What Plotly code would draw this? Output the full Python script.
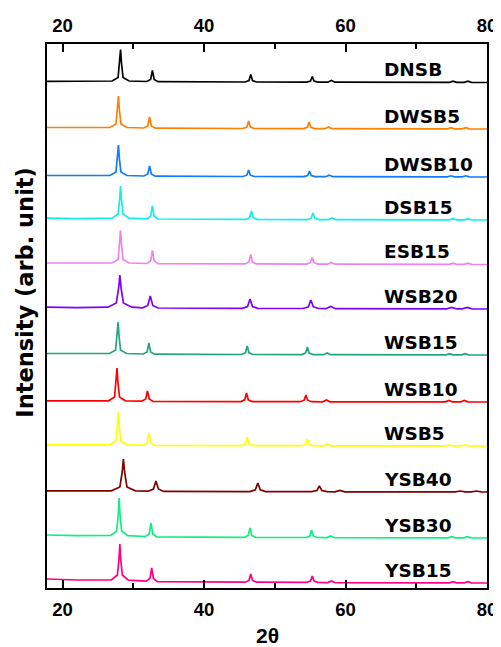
import plotly.graph_objects as go

# ---- data ----
names = ["DNSB", "DWSB5", "DWSB10", "DSB15", "ESB15", "WSB20",
         "WSB15", "WSB10", "WSB5", "YSB40", "YSB30", "YSB15"]
colors = ["#000000", "#FF8000", "#0F7BFF", "#11EEEE", "#EE82EE", "#8000FF",
          "#20A878", "#FF0000", "#FFFF00", "#800000", "#10F080", "#FF0080"]
offsets = [505.5, 459, 411, 368, 323.5, 279, 233, 186, 142, 96, 50, 5]

x_DNSB = [17.8, 22, 27.0, 27.85, 28.08, 28.2, 28.32, 28.55, 29.4, 31.9, 32.45, 32.7, 32.95, 33.5, 45.8, 46.35, 46.6, 46.85, 47.4, 54.5, 55.05, 55.3, 55.55, 56.1, 57.5, 58.0, 58.5, 74.7, 75.2, 75.7, 76.8, 77.3, 77.8, 80]
y_DNSB = [1.2, 1.0, 1.5, 5, 20, 33, 20, 5, 1.5, 1.0, 3, 12, 3, 0.8, 0.5, 2, 8, 2, 0.5, 0.4, 1.5, 6, 1.5, 0.4, 0.3, 2, 0.3, 0.1, 1.3, 0.1, 0.1, 1.3, 0.1, 0]

x_DWSB5 = [17.8, 22, 26.7, 27.55, 27.78, 27.9, 28.02, 28.25, 29.1, 31.5, 32.05, 32.3, 32.55, 33.1, 45.5, 46.05, 46.3, 46.55, 47.1, 54.05, 54.6, 54.85, 55.1, 55.65, 57.1, 57.6, 58.1, 74.4, 74.9, 75.4, 76.5, 77.0, 77.5, 80]
y_DWSB5 = [1.5, 1.2, 1.5, 5, 20, 33, 20, 5, 1.5, 1.0, 3, 12, 3, 0.8, 0.5, 2, 8, 2, 0.5, 0.4, 1.7, 7, 1.7, 0.4, 0.3, 2, 0.3, 0.1, 1.3, 0.1, 0.1, 1.3, 0.1, 0]

x_DWSB10 = [17.8, 22, 26.7, 27.55, 27.78, 27.9, 28.02, 28.25, 29.1, 31.5, 32.05, 32.3, 32.55, 33.1, 45.5, 46.05, 46.3, 46.55, 47.1, 54.1, 54.65, 54.9, 55.15, 55.7, 57.2, 57.7, 58.2, 74.4, 74.9, 75.4, 76.5, 77.0, 77.5, 80]
y_DWSB10 = [1.5, 1.2, 1.5, 5, 19, 32, 19, 5, 1.5, 1.0, 3, 11, 3, 0.8, 0.5, 1.8, 7, 1.8, 0.5, 0.4, 1.5, 6, 1.5, 0.4, 0.3, 1.8, 0.3, 0.1, 1.2, 0.1, 0.1, 1.2, 0.1, 0]

x_DSB15 = [17.8, 22, 27.0, 27.85, 28.08, 28.2, 28.32, 28.55, 29.4, 31.9, 32.45, 32.7, 32.95, 33.5, 45.9, 46.45, 46.7, 46.95, 47.5, 54.6, 55.15, 55.4, 55.65, 56.2, 57.6, 58.1, 58.6, 74.7, 75.2, 75.7, 76.8, 77.3, 77.8, 80]
y_DSB15 = [1.8, 1.4, 1.8, 6, 21, 34, 21, 6, 1.8, 1.2, 3.5, 14, 3.5, 1.0, 0.6, 2.3, 9, 2.3, 0.6, 0.4, 1.8, 7, 1.8, 0.4, 0.3, 2, 0.3, 0.1, 1.3, 0.1, 0.1, 1.3, 0.1, 0]

x_ESB15 = [17.8, 22, 27.0, 27.85, 28.08, 28.2, 28.32, 28.55, 29.4, 31.9, 32.45, 32.7, 32.95, 33.5, 45.8, 46.35, 46.6, 46.85, 47.4, 54.5, 55.05, 55.3, 55.55, 56.1, 57.5, 58.0, 58.5, 74.7, 75.2, 75.7, 76.8, 77.3, 77.8, 80]
y_ESB15 = [1.5, 1.2, 1.5, 5, 21, 34, 21, 5, 1.5, 1.0, 3.5, 14, 3.5, 0.8, 0.6, 2.5, 10, 2.5, 0.6, 0.4, 1.8, 7, 1.8, 0.4, 0.3, 2, 0.3, 0.1, 1.3, 0.1, 0.1, 1.3, 0.1, 0]

x_WSB20 = [17.8, 22, 26.4, 27.6, 27.93, 28.1, 28.27, 28.6, 29.8, 31.3, 32.05, 32.4, 32.75, 33.5, 45.4, 46.15, 46.5, 46.85, 47.6, 54.0, 54.75, 55.1, 55.45, 56.2, 57.2, 57.9, 58.6, 74.3, 75.0, 75.7, 76.5, 77.2, 77.9, 80]
y_WSB20 = [1.8, 1.4, 1.8, 6, 21, 34, 21, 6, 1.8, 1.2, 3.5, 13, 3.5, 1.0, 0.6, 2.5, 10, 2.5, 0.6, 0.5, 2.2, 9, 2.2, 0.5, 0.3, 2.5, 0.3, 0.1, 1.5, 0.1, 0.1, 1.5, 0.1, 0]

x_WSB15 = [17.8, 22, 26.65, 27.5, 27.73, 27.85, 27.97, 28.2, 29.05, 31.4, 31.95, 32.2, 32.45, 33.0, 45.3, 45.85, 46.1, 46.35, 46.9, 53.8, 54.35, 54.6, 54.85, 55.4, 56.9, 57.4, 57.9, 74.2, 74.7, 75.2, 76.4, 76.9, 77.4, 80]
y_WSB15 = [1.5, 1.2, 1.5, 5, 20, 33, 20, 5, 1.5, 1.0, 3, 12, 3, 0.8, 0.5, 2.2, 9, 2.2, 0.5, 0.4, 2, 8, 2, 0.4, 0.3, 2, 0.3, 0.1, 1.3, 0.1, 0.1, 1.3, 0.1, 0]

x_WSB10 = [17.8, 22, 26.5, 27.35, 27.58, 27.7, 27.82, 28.05, 28.9, 31.2, 31.75, 32.0, 32.25, 32.8, 45.2, 45.75, 46.0, 46.25, 46.8, 53.6, 54.15, 54.4, 54.65, 55.2, 56.8, 57.3, 57.8, 74.1, 74.6, 75.1, 76.3, 76.8, 77.3, 80]
y_WSB10 = [1.2, 1.0, 1.2, 5, 20, 34, 20, 5, 1.2, 0.8, 3, 11, 3, 0.6, 0.4, 2.2, 9, 2.2, 0.4, 0.3, 1.8, 7, 1.8, 0.3, 0.2, 2, 0.2, 0.1, 1.5, 0.1, 0.1, 1.5, 0.1, 0]

x_WSB5 = [17.8, 22, 26.7, 27.55, 27.78, 27.9, 28.02, 28.25, 29.1, 31.4, 31.95, 32.2, 32.45, 33.0, 45.3, 45.85, 46.1, 46.35, 46.9, 53.8, 54.35, 54.6, 54.85, 55.4, 56.9, 57.4, 57.9, 74.2, 74.7, 75.2, 76.4, 76.9, 77.4, 80]
y_WSB5 = [1.2, 1.0, 1.2, 5, 20, 34, 20, 5, 1.2, 0.8, 3.2, 13, 3.2, 0.6, 0.4, 2.2, 9, 2.2, 0.4, 0.3, 1.8, 7, 1.8, 0.3, 0.2, 2, 0.2, 0.1, 1.2, 0.1, 0.1, 1.2, 0.1, 0]

x_YSB40 = [17.8, 22, 26.9, 28.1, 28.43, 28.6, 28.77, 29.1, 30.3, 32.1, 32.85, 33.2, 33.55, 34.3, 46.5, 47.25, 47.6, 47.95, 48.7, 55.2, 55.95, 56.3, 56.65, 57.4, 58.5, 59.2, 59.9, 75.5, 76.2, 76.9, 77.8, 78.5, 79.2, 80]
y_YSB40 = [1.2, 1.0, 1.2, 5, 20, 33, 20, 5, 1.2, 0.8, 3, 11, 3, 0.6, 0.4, 2.2, 9, 2.2, 0.4, 0.3, 1.5, 6, 1.5, 0.3, 0.2, 1.5, 0.2, 0.1, 1.0, 0.1, 0.1, 1.0, 0.1, 0]

x_YSB30 = [17.8, 22, 26.8, 27.65, 27.88, 28.0, 28.12, 28.35, 29.2, 31.7, 32.25, 32.5, 32.75, 33.3, 45.7, 46.25, 46.5, 46.75, 47.3, 54.4, 54.95, 55.2, 55.45, 56.0, 57.4, 57.9, 58.4, 74.5, 75.0, 75.5, 76.7, 77.2, 77.7, 80]
y_YSB30 = [3, 2.3, 2.5, 7, 24, 40, 24, 7, 2.3, 1.5, 4, 15, 4, 1.2, 0.7, 2.5, 10, 2.5, 0.7, 0.5, 2, 8, 2, 0.5, 0.4, 2, 0.4, 0.2, 1.3, 0.2, 0.1, 1.3, 0.1, 0]

x_YSB15 = [17.8, 22, 26.9, 27.75, 27.98, 28.1, 28.22, 28.45, 29.3, 31.8, 32.35, 32.6, 32.85, 33.4, 45.8, 46.35, 46.6, 46.85, 47.4, 54.5, 55.05, 55.3, 55.55, 56.1, 57.5, 58.0, 58.5, 74.7, 75.2, 75.7, 76.8, 77.3, 77.8, 80]
y_YSB15 = [4, 3, 3, 8, 24, 39, 24, 8, 2.8, 1.8, 4.5, 15, 4.5, 1.4, 0.8, 2.5, 9, 2.5, 0.8, 0.6, 2, 7, 2, 0.6, 0.4, 2, 0.4, 0.2, 1.3, 0.2, 0.1, 1.3, 0.1, 0]

x_ticks = [20, 40, 60, 80]
x_range = [17.8, 80]
y_range = [0, 544]
label_x = 65.2
label_lift = 13

series_x = [x_DNSB, x_DWSB5, x_DWSB10, x_DSB15, x_ESB15, x_WSB20,
            x_WSB15, x_WSB10, x_WSB5, x_YSB40, x_YSB30, x_YSB15]
series_y = [y_DNSB, y_DWSB5, y_DWSB10, y_DSB15, y_ESB15, y_WSB20,
            y_WSB15, y_WSB10, y_WSB5, y_YSB40, y_YSB30, y_YSB15]

fig = go.Figure()
annotations = []
lab_font = dict(family="DejaVu Sans", size=18.5, color="black", weight="bold")
for name, col, off, xs, ys in zip(names, colors, offsets, series_x, series_y):
    fig.add_trace(go.Scatter(x=xs, y=[v + off for v in ys], mode="lines",
                             line=dict(color=col, width=1.7), name=name,
                             showlegend=False, hoverinfo="skip"))
    annotations.append(dict(x=label_x, y=off + label_lift, xref="x", yref="y",
                            text=name, showarrow=False, xanchor="left",
                            yanchor="middle", font=lab_font))

# dummy trace for top axis
fig.add_trace(go.Scatter(x=[], y=[], xaxis="x2", showlegend=False, hoverinfo="skip"))

tick_font = dict(family="Liberation Sans, Arial", size=18.5, color="black", weight="bold")
axis_common = dict(range=x_range, tickmode="array", tickvals=x_ticks,
                   ticks="inside", ticklen=8, tickwidth=1.5, tickcolor="black",
                   minor=dict(ticks="inside", ticklen=5, tickwidth=1.5,
                              tickcolor="black", dtick=10, tick0=0),
                   showline=True, linewidth=2, linecolor="black",
                   showgrid=False, zeroline=False, tickfont=tick_font,
                   automargin=False)

annotations.append(dict(x=0.5, y=-0.088, xref="paper", yref="paper", text="2θ",
                        showarrow=False, xanchor="center", yanchor="middle",
                        font=dict(family="Liberation Sans, Arial", size=21,
                                  color="black", weight="bold")))
annotations.append(dict(x=-0.052, y=0.543, xref="paper", yref="paper",
                        text="Intensity (arb. unit)", textangle=-90,
                        showarrow=False, xanchor="center", yanchor="middle",
                        font=dict(family="DejaVu Sans", size=22.5,
                                  color="black", weight="bold")))

# page body has an 8px margin, so the figure is sized/margined to compensate
fig.update_layout(
    width=493, height=639,
    margin=dict(l=39, r=14, t=36, b=59, autoexpand=False),
    paper_bgcolor="white", plot_bgcolor="white",
    xaxis=dict(**axis_common, side="bottom", ticklabelstandoff=4),
    xaxis2=dict(**axis_common, side="top", overlaying="x", anchor="y",
                ticklabelstandoff=3),
    yaxis=dict(range=y_range, showticklabels=False, ticks="", showline=True,
               mirror=True, linewidth=2, linecolor="black",
               showgrid=False, zeroline=False, automargin=False),
    annotations=annotations,
)

fig.write_html("out.html")
